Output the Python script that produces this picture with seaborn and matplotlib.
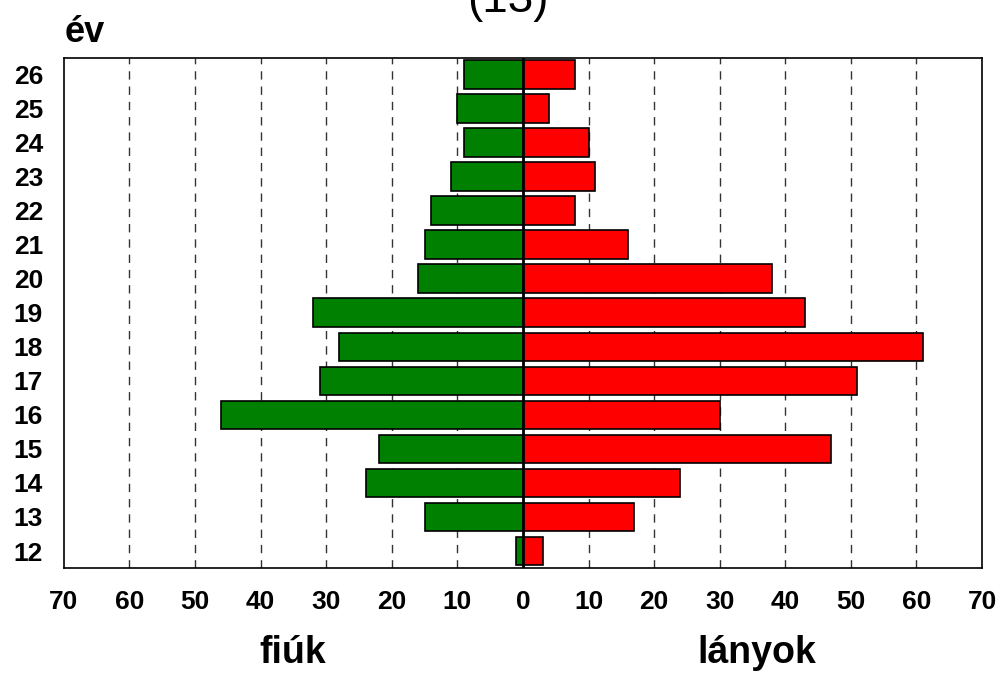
import numpy as np
import pandas as pd
import matplotlib
matplotlib.use("Agg")
import matplotlib.pyplot as plt
import seaborn as sns

# data (top row first)
years = ["26", "25", "24", "23", "22", "21", "20", "19", "18", "17", "16", "15", "14", "13", "12"]
boys = [9, 10, 9, 11, 14, 15, 16, 32, 28, 31, 46, 22, 24, 15, 1]
girls = [8, 4, 10, 11, 8, 16, 38, 43, 61, 51, 30, 47, 24, 17, 3]
x_ticks = [-70, -60, -50, -40, -30, -20, -10, 0, 10, 20, 30, 40, 50, 60, 70]

sns.set_style("white")
plt.rcParams['font.family'] = ['Liberation Sans', 'DejaVu Sans']
plt.rcParams['text.color'] = 'black'
plt.rcParams['xtick.color'] = 'black'
plt.rcParams['ytick.color'] = 'black'

df = pd.DataFrame({"ev": years, "fiuk": [-b for b in boys], "lanyok": girls})

fig = plt.figure(figsize=(9.98, 6.73), dpi=100)
ax = fig.add_axes([0.064, 0.156, 0.92, 0.758])

# dashed grid lines behind bars
for t in x_ticks:
    if t == 0 or abs(t) == 70:
        continue
    ax.axvline(t, color="#333333", linestyle=(0, (6, 5)), linewidth=1.0, zorder=0)

sns.barplot(data=df, x="fiuk", y="ev", order=years, color="#008000", saturation=1,
            width=0.85, edgecolor="black", linewidth=1.2, ax=ax, zorder=2)
sns.barplot(data=df, x="lanyok", y="ev", order=years, color="#ff0000", saturation=1,
            width=0.85, edgecolor="black", linewidth=1.2, ax=ax, zorder=2)

ax.axvline(0, color="black", linewidth=2, zorder=3)

ax.set_xlim(-70, 70)
ax.set_ylim(len(years) - 0.5, -0.5)
ax.set_xticks(x_ticks)
ax.set_xticklabels([str(abs(t)) for t in x_ticks], fontsize=19, fontweight="bold")
ax.set_yticklabels(years, fontsize=19, fontweight="bold")
ax.tick_params(axis="x", length=0, pad=16)
ax.tick_params(axis="y", length=0, pad=15)
ax.set_xlabel("")
ax.set_ylabel("")
for s in ax.spines.values():
    s.set_color("black")
    s.set_linewidth(1.2)

fig.text(0.065, 0.952, "év", fontsize=26, fontweight="bold", ha="left", va="center")
fig.text(0.293, 0.03, "fiúk", fontsize=27, fontweight="bold", ha="center", va="center")
fig.text(0.758, 0.03, "lányok", fontsize=27, fontweight="bold", ha="center", va="center")
# title partly cut off at the top edge, as in the original
fig.text(0.509, 0.967, "(13)", fontsize=33, ha="center", va="bottom")

fig.savefig("out.png", dpi=100)
